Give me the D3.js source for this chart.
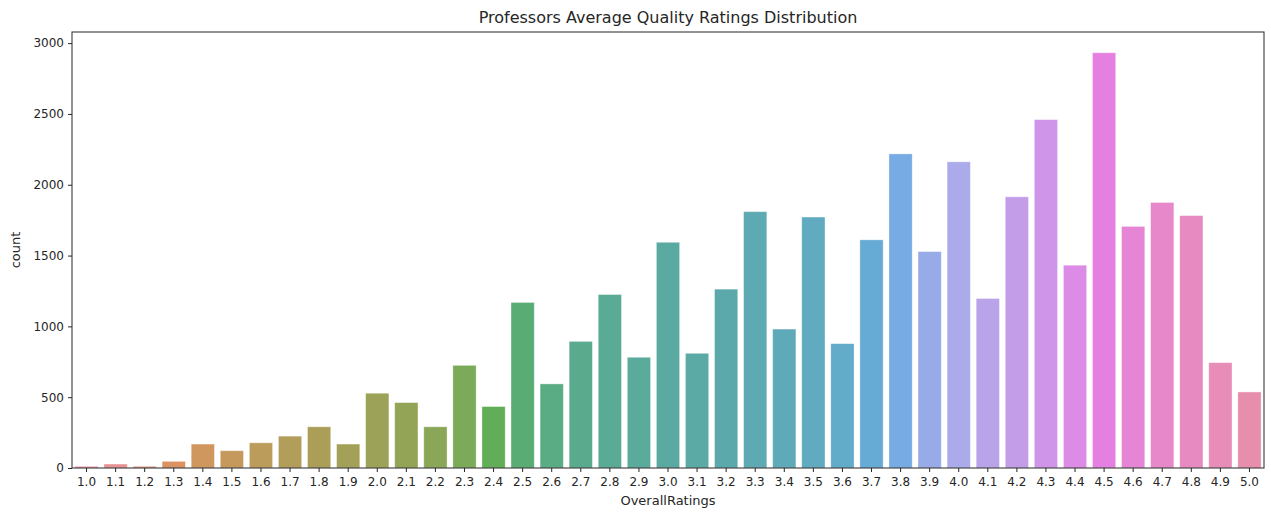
<!DOCTYPE html>
<html>
<head>
<meta charset="utf-8">
<script src="https://cdn.jsdelivr.net/npm/d3@7.9.0/dist/d3.min.js"></script>
<style>
  body { margin: 0; background: #fff; }
  svg { display: block; font-family: "DejaVu Sans", sans-serif; }
  .axis text { fill: #262626; font-size: 12px; font-family: "DejaVu Sans", sans-serif; }
  .axis line { stroke: #262626; }
  .axis path { display: none; }
</style>
</head>
<body>
<div id="chart"></div>
<script>
const ratings = ['1.0','1.1','1.2','1.3','1.4','1.5','1.6','1.7','1.8','1.9',
  '2.0','2.1','2.2','2.3','2.4','2.5','2.6','2.7','2.8','2.9',
  '3.0','3.1','3.2','3.3','3.4','3.5','3.6','3.7','3.8','3.9',
  '4.0','4.1','4.2','4.3','4.4','4.5','4.6','4.7','4.8','4.9','5.0'];

const counts = [12, 28, 12, 47, 169, 122, 178, 225, 291, 169,
  528, 462, 291, 725, 434, 1169, 594, 894, 1225, 782,
  1594, 810, 1263, 1810, 981, 1772, 878, 1611, 2218, 1528,
  2162, 1197, 1915, 2460, 1432, 2932, 1706, 1875, 1782, 744, 537];

const yTicks = [0, 500, 1000, 1500, 2000, 2500, 3000];

const title = 'Professors Average Quality Ratings Distribution';
const xLabel = 'OverallRatings';
const yLabel = 'count';

// seaborn's husl palette (old husl.py), desaturated to .75
const M = [[3.2406, -1.5372, -0.4986], [-0.9689, 1.8758, 0.0415], [0.0557, -0.2040, 1.0570]];

function maxChroma(L, H) {
  const hrad = H * Math.PI / 180;
  const sinH = Math.sin(hrad), cosH = Math.cos(hrad);
  const sub1 = Math.pow(L + 16, 3) / 1560896;
  const sub2 = sub1 > 0.008856 ? sub1 : L / 903.3;
  let result = Infinity;
  for (const [m1, m2, m3] of M) {
    const top = (0.99915 * m1 + 1.05122 * m2 + 1.14460 * m3) * sub2;
    const rbottom = 0.86330 * m3 - 0.17266 * m2;
    const lbottom = 0.12949 * m3 - 0.38848 * m1;
    const bottom = (rbottom * sinH + lbottom * cosH) * sub2;
    for (const t of [0, 1]) {
      const C = L * (top - 1.05122 * t) / (bottom + 0.17266 * sinH * t);
      if (C > 0 && C < result) result = C;
    }
  }
  return result;
}

function huslToRgb(h, s, l) {
  const C = maxChroma(l, h) / 100 * s;
  const hr = h * Math.PI / 180;
  const U = C * Math.cos(hr), V = C * Math.sin(hr);
  const fInv = (t) => (t ** 3 > 0.008856 ? t ** 3 : (116 * t - 16) / 903.3);
  const Y = fInv((l + 16) / 116);
  const varU = U / (13 * l) + 0.19784;
  const varV = V / (13 * l) + 0.46834;
  const X = -(9 * Y * varU) / ((varU - 4) * varV - varU * varV);
  const Z = (9 * Y - 15 * varV * Y - varV * X) / (3 * varV);
  const fromLinear = (c) => (c <= 0.0031308 ? 12.92 * c : 1.055 * Math.pow(c, 1 / 2.4) - 0.055);
  return M.map((row) => {
    const v = fromLinear(row[0] * X + row[1] * Y + row[2] * Z);
    return Math.max(0, Math.min(1, v));
  });
}

function huslPalette(n) {
  return d3.range(n).map((i) => {
    const h = ((i / n + 0.01) % 1) * 359;
    const [r, g, b] = huslToRgb(h, 0.9 * 99, 0.65 * 99);
    const c = d3.hsl(d3.rgb(r * 255, g * 255, b * 255));
    c.s *= 0.75;
    // the reference looks a touch lighter than the raw seaborn colours
    return d3.interpolateRgb(c.formatHex(), '#fff')(0.12);
  });
}

const colors = huslPalette(ratings.length);

const width = 1271;
const height = 513;
const margin = { top: 32, right: 7, bottom: 45, left: 72 };

const svg = d3.select('#chart')
  .append('svg')
  .attr('width', width)
  .attr('height', height);

const x = d3.scaleBand()
  .domain(ratings)
  .range([margin.left, width - margin.right])
  .padding(0.2)
  .paddingOuter(0.1);

const y = d3.scaleLinear()
  .domain([0, d3.max(counts) * 1.05])
  .range([height - margin.bottom, margin.top]);

svg.append('g')
  .selectAll('rect')
  .data(ratings)
  .join('rect')
  .attr('x', (d) => x(d))
  .attr('width', x.bandwidth())
  .attr('y', (d, i) => y(counts[i]))
  .attr('height', (d, i) => y(0) - y(counts[i]))
  .attr('fill', (d, i) => colors[i])
  .attr('stroke', 'rgba(255,255,255,0.45)')
  .attr('stroke-width', 0.8);

svg.append('g')
  .attr('class', 'axis')
  .attr('transform', `translate(0, ${height - margin.bottom})`)
  .call(d3.axisBottom(x).tickSize(4).tickPadding(3))
  .selectAll('text')
  .attr('dy', '0.9em');

svg.append('g')
  .attr('class', 'axis')
  .attr('transform', `translate(${margin.left}, 0)`)
  .call(d3.axisLeft(y).tickValues(yTicks).tickFormat(d3.format('d')).tickSize(4).tickPadding(4));

svg.append('rect')
  .attr('x', margin.left)
  .attr('y', margin.top)
  .attr('width', width - margin.left - margin.right)
  .attr('height', height - margin.top - margin.bottom)
  .attr('fill', 'none')
  .attr('stroke', '#262626')
  .attr('stroke-width', 1);

svg.append('text')
  .attr('x', (margin.left + width - margin.right) / 2)
  .attr('y', 23)
  .attr('text-anchor', 'middle')
  .attr('font-size', 16)
  .attr('fill', '#262626')
  .text(title);

svg.append('text')
  .attr('x', (margin.left + width - margin.right) / 2)
  .attr('y', 505)
  .attr('text-anchor', 'middle')
  .attr('font-size', 13)
  .attr('fill', '#262626')
  .text(xLabel);

svg.append('text')
  .attr('transform', `translate(20, ${(margin.top + height - margin.bottom) / 2}) rotate(-90)`)
  .attr('text-anchor', 'middle')
  .attr('font-size', 13)
  .attr('fill', '#262626')
  .text(yLabel);
</script>
</body>
</html>
